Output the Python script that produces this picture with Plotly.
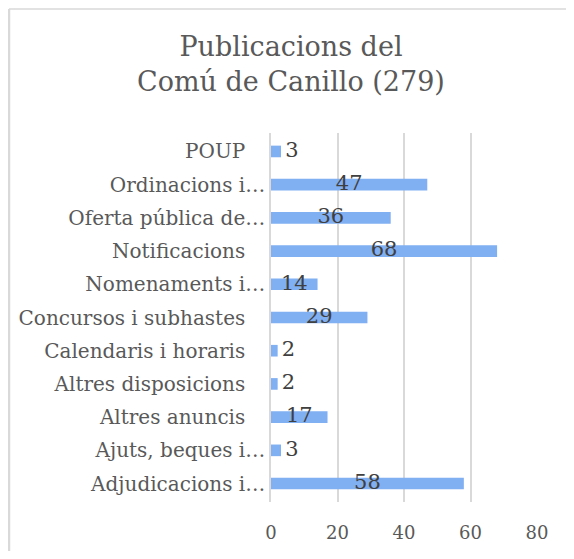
import plotly.graph_objects as go

# data, bottom to top as drawn
categories = [
    "Adjudicacions i…",
    "Ajuts, beques i…",
    "Altres anuncis",
    "Altres disposicions",
    "Calendaris i horaris",
    "Concursos i subhastes",
    "Nomenaments i…",
    "Notificacions",
    "Oferta pública de…",
    "Ordinacions i…",
    "POUP",
]
values = [58, 3, 17, 2, 2, 29, 14, 68, 36, 47, 3]
x_ticks = [0, 20, 40, 60, 80]
title_lines = ["Publicacions del", "Comú de Canillo (279)"]

FONT = "DejaVu Serif"
GREY = "#595959"
DARK = "#404040"
BAR = "#80AFF2"
GRID = "#D9D9D9"

# the page body adds an 8px margin all round, so the figure is made
# smaller to fit the window and everything is shifted back by 8px
W, H = 558, 543
PLOT_L, PLOT_T, PLOT_W, PLOT_H = 263, 125, 266, 369

# excel-ish labels: the cut ones sit closer to the axis
ticktext = [c if c.endswith("…") else c + "\u2002\u2002" for c in categories]

fig = go.Figure()
fig.add_trace(go.Bar(
    x=values,
    y=categories,
    orientation="h",
    marker=dict(color=BAR, line=dict(width=0)),
    width=0.35,
    hoverinfo="x+y",
    showlegend=False,
))

# value labels: centred on long bars, just right of short ones
big = [v >= 10 for v in values]
fig.add_trace(go.Scatter(
    x=[v / 2 if b else v for v, b in zip(values, big)],
    y=categories,
    mode="text",
    text=[str(v) if b else "\u2009" + str(v) for v, b in zip(values, big)],
    textposition=["middle center" if b else "middle right" for b in big],
    textfont=dict(family=FONT, size=21, color=DARK),
    hoverinfo="skip",
    showlegend=False,
))

# chart frame: only its top and left edges are in view
fx = (1 - PLOT_L) / PLOT_W
fy = (PLOT_T + PLOT_H - 1) / PLOT_H
frame = [
    dict(type="line", xref="paper", yref="paper", x0=fx, x1=(W - PLOT_L) / PLOT_W,
         y0=fy, y1=fy, line=dict(color=GRID, width=1.5), layer="below"),
    dict(type="line", xref="paper", yref="paper", x0=fx, x1=fx,
         y0=(PLOT_T + PLOT_H - H) / PLOT_H, y1=fy, line=dict(color=GRID, width=2.5), layer="below"),
]

fig.update_layout(
    width=W,
    height=H,
    margin=dict(l=PLOT_L, r=W - PLOT_L - PLOT_W, t=PLOT_T, b=H - PLOT_T - PLOT_H),
    paper_bgcolor="white",
    plot_bgcolor="white",
    font=dict(family=FONT, color=GREY),
    title=dict(
        text="<br>".join(title_lines),
        font=dict(family=FONT, size=27, color=GREY),
        x=283 / W,
        xanchor="center",
        xref="container",
        y=1 - 48 / H,
        yanchor="top",
        yref="container",
    ),
    xaxis=dict(
        range=[0, 80],
        tickvals=x_ticks,
        showgrid=True,
        gridcolor=GRID,
        gridwidth=1.5,
        zeroline=False,
        showline=False,
        ticks="",
        ticklabelstandoff=18,
        tickfont=dict(family=FONT, size=18, color=GREY),
        automargin=False,
    ),
    yaxis=dict(
        type="category",
        categoryorder="array",
        categoryarray=categories,
        tickvals=categories,
        ticktext=ticktext,
        showgrid=False,
        zeroline=False,
        showline=True,
        linecolor=GRID,
        linewidth=1.5,
        ticks="",
        ticklabelstandoff=0,
        tickfont=dict(family=FONT, size=20, color=GREY),
        automargin=False,
    ),
    shapes=frame,
)

fig.write_html("out.html")
